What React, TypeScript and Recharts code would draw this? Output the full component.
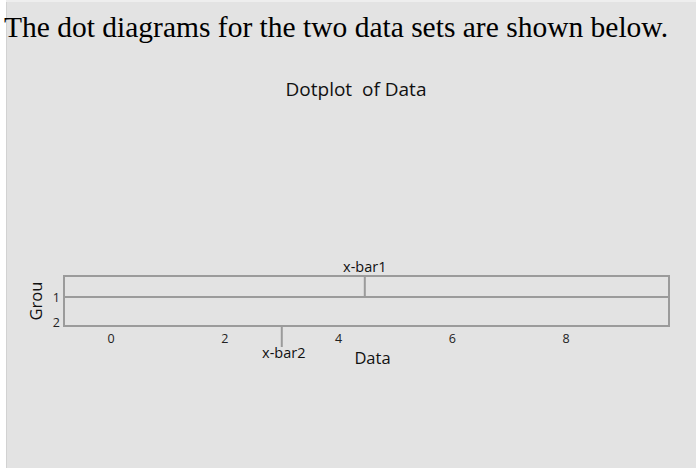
import React from "react";
import {
  ScatterChart,
  Scatter,
  XAxis,
  YAxis,
  ReferenceLine,
  ReferenceArea,
} from "recharts";

// groups on the y axis, data values on the x axis
const groups = [1, 2];
const xTicks = [0, 2, 4, 6, 8];
const xDomain = [-0.83, 9.81];
const yDomain = [0.16, 2.16];

// sample means marked on the plot
const xbarNames = ["x-bar1", "x-bar2"];
const xbarValues = [4.46, 3.0];

// no dots are drawn in the original picture
const dots: { x: number; y: number }[] = [];

const FONT = "'Open Sans', sans-serif";
const BOX = "#9b9b9b";

const GroupLabel = ({ viewBox }: any) => {
  const cx = viewBox.x + 35.5;
  const cy = viewBox.y + viewBox.height / 2;
  return (
    <text
      x={cx}
      y={cy}
      transform={`rotate(-90, ${cx}, ${cy})`}
      textAnchor="middle"
      dominantBaseline="central"
      fontSize={16.5}
      fontFamily={FONT}
      fill="#111"
    >
      Grou
    </text>
  );
};

const GroupTick = ({ x, y, payload }: any) => (
  <text
    x={x}
    y={y}
    textAnchor="end"
    dominantBaseline="central"
    fontSize={12.5}
    fontFamily={FONT}
    fill="#222"
  >
    {payload.value}
  </text>
);

export default function App() {
  return (
    <div
      style={{
        position: "absolute",
        left: 0,
        top: 0,
        width: 696,
        height: 468,
        background: "#ffffff",
        overflow: "hidden",
      }}
    >
      <div style={{ position: "absolute", left: 6, top: 0, right: 0, height: 2, background: "#eeeeee" }} />
      <div
        style={{
          position: "absolute",
          left: 6,
          top: 2,
          right: 0,
          bottom: 0,
          background: "#e3e3e3",
          borderLeft: "1px solid #d2d2d2",
        }}
      />
      <div
        style={{
          position: "absolute",
          left: 4,
          top: 11,
          fontFamily: "'Liberation Serif', 'Times New Roman', serif",
          fontSize: 29.5,
          color: "#000",
          whiteSpace: "nowrap",
        }}
      >
        The dot diagrams for the two data sets are shown below.
      </div>
      <div
        style={{
          position: "absolute",
          left: 0,
          width: 712,
          top: 76,
          textAlign: "center",
          fontFamily: FONT,
          fontSize: 19,
          color: "#111",
          whiteSpace: "pre",
        }}
      >
        {"Dotplot  of Data"}
      </div>
      <div style={{ position: "absolute", left: 0, top: 0 }}>
        <ScatterChart
          width={696}
          height={468}
          margin={{ top: 276, right: 27, bottom: 102, left: 0 }}
          style={{ fontFamily: FONT }}
        >
          <XAxis
            type="number"
            dataKey="x"
            domain={xDomain}
            ticks={xTicks}
            allowDataOverflow
            height={40}
            axisLine={false}
            tickLine={false}
            tickSize={0}
            tickMargin={8}
            tick={{ fontSize: 12.5, fill: "#222" }}
            label={{
              value: "Data",
              position: "insideBottom",
              offset: 2,
              dx: 6,
              fontSize: 16.5,
              fill: "#111",
            }}
          />
          <YAxis
            type="number"
            dataKey="y"
            domain={yDomain}
            ticks={groups}
            reversed
            allowDataOverflow
            width={64}
            axisLine={false}
            tickLine={false}
            tickSize={0}
            tickMargin={4}
            tick={<GroupTick />}
            label={<GroupLabel />}
          />
          <ReferenceArea
            x1={xDomain[0]}
            x2={xDomain[1]}
            y1={yDomain[0]}
            y2={yDomain[1]}
            fill="none"
            fillOpacity={0}
            stroke={BOX}
            strokeWidth={2}
          />
          <ReferenceLine y={groups[0]} stroke={BOX} strokeWidth={2} />
          <ReferenceLine
            segment={[
              { x: xbarValues[0], y: yDomain[0] },
              { x: xbarValues[0], y: groups[0] },
            ]}
            stroke={BOX}
            strokeWidth={2}
            label={{ value: xbarNames[0], position: "top", offset: 4, fontSize: 14.5, fill: "#111" }}
          />
          <ReferenceLine
            segment={[
              { x: xbarValues[1], y: yDomain[1] },
              { x: xbarValues[1], y: 3.0 },
            ]}
            ifOverflow="visible"
            stroke={BOX}
            strokeWidth={2}
            label={{ value: xbarNames[1], position: "bottom", offset: 1, dx: 2, fontSize: 14.5, fill: "#111" }}
          />
          <Scatter data={dots} fill="#333" isAnimationActive={false} />
        </ScatterChart>
      </div>
    </div>
  );
}
